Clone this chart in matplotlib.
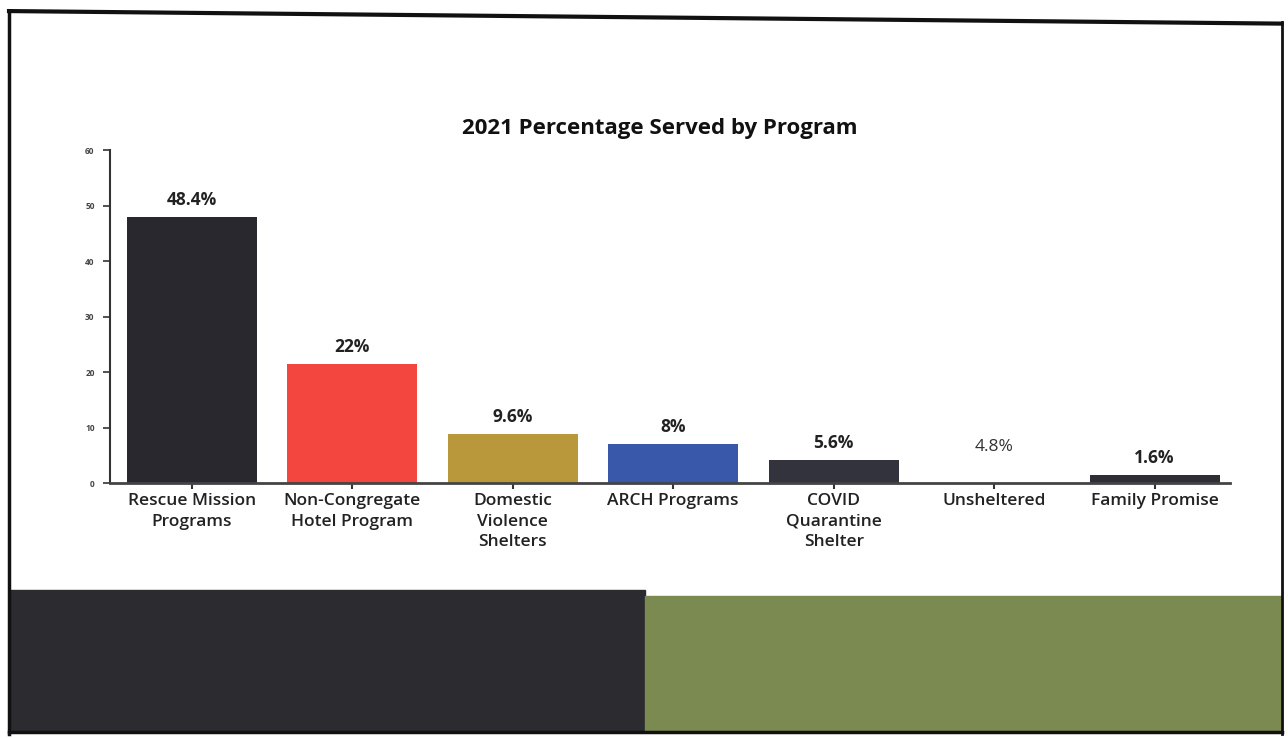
import matplotlib
matplotlib.use("Agg")
import matplotlib.pyplot as plt
from matplotlib.patches import Rectangle

# Data
programs = ["Rescue Mission\nPrograms", "Non-Congregate\nHotel Program", "Domestic\nViolence\nShelters",
            "ARCH Programs", "COVID\nQuarantine\nShelter", "Unsheltered", "Family Promise"]
bar_heights = [47.9, 21.4, 8.8, 7.0, 4.1, 3.6, 1.4]
value_labels = ["48.4%", "22%", "9.6%", "8%", "5.6%", "4.8%", "1.6%"]
bar_colors = ["#28282e", "#f2463f", "#b8983a", "#3a58aa", "#33333d", "#ffffff", "#2e2e34"]
yticks = [0, 10, 20, 30, 40, 50, 60]

plt.rcParams['font.family'] = ['Open Sans', 'DejaVu Sans']

fig = plt.figure(figsize=(12.88, 7.38), dpi=100)
fig.patch.set_facecolor("white")

# scanned page frame and coloured blocks underneath
fig.add_artist(plt.Line2D([0.007, 0.007], [0.985, 0.006], color="#111111", lw=2.5, transform=fig.transFigure))
fig.add_artist(plt.Line2D([0.995, 0.995], [0.97, 0.006], color="#111111", lw=2.0, transform=fig.transFigure))
fig.add_artist(plt.Line2D([0.007, 0.995], [0.985, 0.968], color="#111111", lw=3.0, transform=fig.transFigure))
fig.add_artist(plt.Line2D([0.007, 0.995], [0.008, 0.008], color="#111111", lw=2.5, transform=fig.transFigure))
fig.add_artist(Rectangle((0.007, 0.01), 0.494, 0.19, color="#2b2b30", transform=fig.transFigure))
fig.add_artist(Rectangle((0.501, 0.01), 0.494, 0.182, color="#7a8a50", transform=fig.transFigure))

ax = fig.add_axes([0.0854, 0.3455, 0.8696, 0.4512])
x = list(range(len(programs)))
ax.bar(x, bar_heights, width=0.81, color=bar_colors, edgecolor="none")

for i, (h, lab) in enumerate(zip(bar_heights, value_labels)):
    if programs[i] == "Unsheltered":
        ax.text(i, h + 1.4, lab, ha="center", va="bottom", fontsize=12.5, color="#333333")
    else:
        ax.text(i, h + 1.4, lab, ha="center", va="bottom", fontsize=12.5, fontweight="bold", color="#222222")

ax.set_xlim(-0.51, 6.47)
ax.set_ylim(0, 60)
ax.set_yticks(yticks)
ax.set_yticklabels([str(t) for t in yticks], fontsize=6, color="#444444", fontweight="bold")
ax.set_xticks(x)
ax.set_xticklabels(programs, fontsize=12.5, color="#222222", linespacing=1.4, fontweight="semibold")
ax.tick_params(axis="y", length=5, width=1.2, color="#333333", pad=6)
ax.tick_params(axis="x", length=4, width=1.5, color="#333333", pad=3)
for s in ["top", "right"]:
    ax.spines[s].set_visible(False)
ax.spines["left"].set_linewidth(1.5)
ax.spines["left"].set_color("#333333")
ax.spines["bottom"].set_linewidth(2)
ax.spines["bottom"].set_color("#444444")

fig.text(0.512, 0.826, "2021 Percentage Served by Program", ha="center", va="center",
         fontsize=16, fontweight="bold", color="#111111")

fig.savefig("out.png", dpi=100)
